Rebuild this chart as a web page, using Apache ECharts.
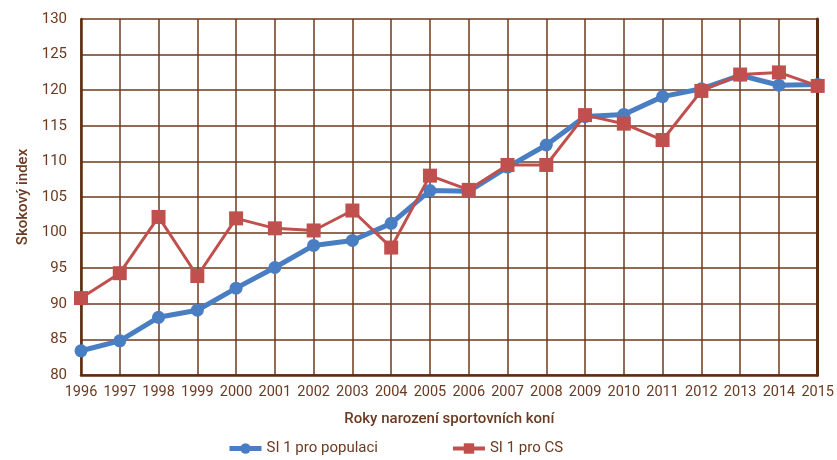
<!DOCTYPE html>
<html><head><meta charset="utf-8">
<script src="https://cdn.jsdelivr.net/npm/echarts@6/dist/echarts.min.js"></script>
<style>html,body{margin:0;padding:0;background:#fff}#c{width:837px;height:460px}</style>
</head><body><div id="c"></div>
<script>
var years = ['1996','1997','1998','1999','2000','2001','2002','2003','2004','2005','2006','2007','2008','2009','2010','2011','2012','2013','2014','2015'];
var siPopulace = [83.4,84.8,88.1,89.1,92.2,95.1,98.2,98.9,101.3,105.9,105.8,109.2,112.3,116.3,116.6,119.1,120.2,122.1,120.7,120.8];
var siCS = [90.8,94.3,102.2,93.9,102.0,100.6,100.3,103.1,97.9,108.0,106.0,109.5,109.5,116.5,115.3,113.0,119.9,122.2,122.5,120.6];
var seriesNames = ['SI 1 pro populaci','SI 1 pro CS'];
var axisBrown = '#5e2c0e', gridBrown = '#6e3a1e', textBrown = '#6b3a20';
var font = 'Roboto, sans-serif';
var chart = echarts.init(document.getElementById('c'));
chart.setOption({
  animation:false,
  grid:{left:81,right:19,top:19,bottom:85,containLabel:false},
  legend:{bottom:-1,left:222,itemGap:73,itemWidth:32,itemHeight:13,
    textStyle:{color:textBrown,fontFamily:font,fontSize:15},
    data:[{name:seriesNames[0],lineStyle:{width:5}},{name:seriesNames[1],lineStyle:{width:4}}]},
  xAxis:{type:'category',data:years,boundaryGap:false,
    name:'Roky narození sportovních koní',nameLocation:'middle',nameGap:37,
    nameTextStyle:{color:textBrown,fontFamily:font,fontSize:15,fontWeight:500},
    axisLine:{lineStyle:{color:axisBrown,width:2.5}},
    axisTick:{show:false},
    axisLabel:{color:textBrown,fontFamily:font,fontSize:14.5,margin:10,interval:0},
    splitLine:{show:true,interval:0,lineStyle:{color:gridBrown,width:1.5}}},
  yAxis:[{type:'value',min:80,max:130,interval:5,
    name:'Skokový index',nameLocation:'middle',nameGap:49,
    nameTextStyle:{color:textBrown,fontFamily:font,fontSize:15,fontWeight:500},
    axisLine:{show:true,lineStyle:{color:axisBrown,width:2.5}},
    axisTick:{show:false},
    axisLabel:{color:textBrown,fontFamily:font,fontSize:15,margin:14},
    splitLine:{show:true,lineStyle:{color:gridBrown,width:1.5}}},
   {type:'value',min:80,max:130,interval:5,position:'right',
    axisLine:{show:true,lineStyle:{color:axisBrown,width:3}},
    axisTick:{show:false},axisLabel:{show:false},splitLine:{show:false}}],
  series:[
    {name:seriesNames[0],type:'line',data:siPopulace,symbol:'circle',symbolSize:13,
     lineStyle:{color:'#4a7ec2',width:5},itemStyle:{color:'#4a7ec2'},z:2},
    {name:seriesNames[1],type:'line',data:siCS,symbol:'rect',symbolSize:14,
     lineStyle:{color:'#c0504d',width:3},itemStyle:{color:'#c0504d'},z:3}
  ]
});
</script></body></html>
